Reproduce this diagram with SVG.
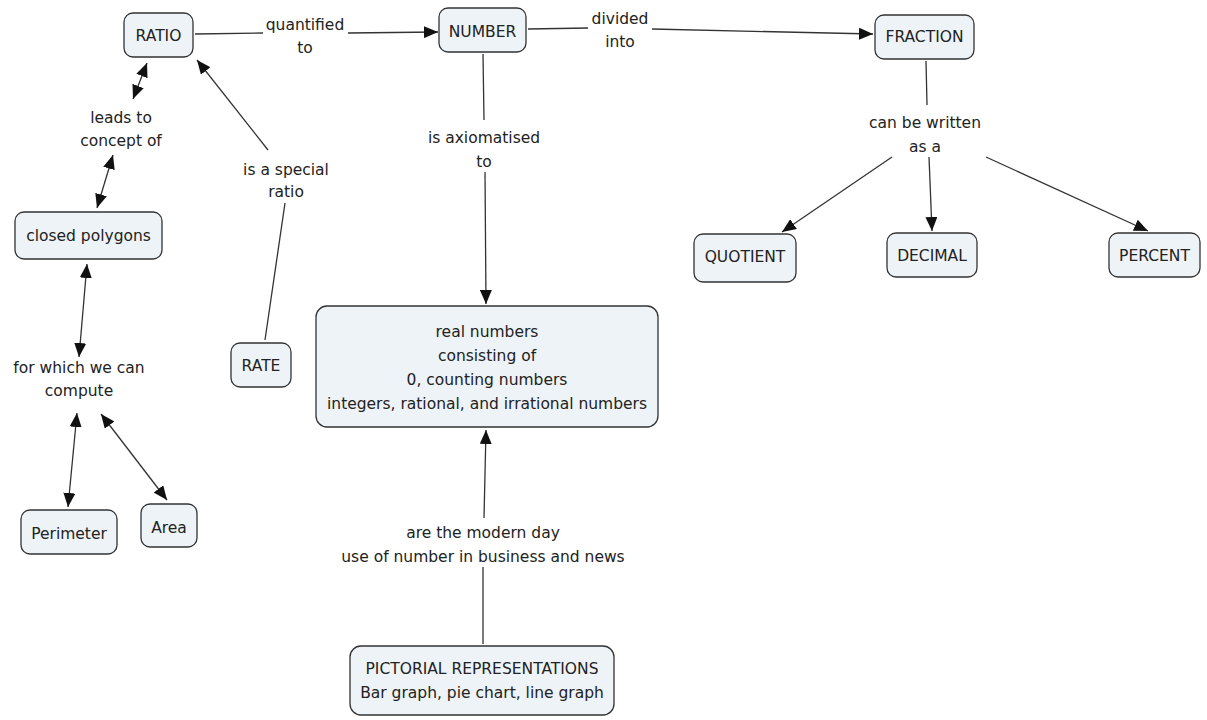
<svg xmlns="http://www.w3.org/2000/svg" width="1207" height="720" viewBox="0 0 1207 720">
<style>
.n rect{fill:#eef3f7;stroke:#333;stroke-width:1.3}
text{font-family:"DejaVu Sans",Verdana,sans-serif;font-size:15.5px;fill:#222;text-anchor:middle}
.c line{stroke:#333;stroke-width:1.3;fill:none}
.a{marker-end:url(#ah)}
.d{marker-end:url(#ah);marker-start:url(#ah)}
</style>
<defs>
<marker id="ah" markerUnits="userSpaceOnUse" markerWidth="15" markerHeight="12" refX="14" refY="6" orient="auto-start-reverse">
<path d="M0,0 L14,6 L0,12 z" fill="#111"/>
</marker>
</defs>
<rect width="1207" height="720" fill="#fff"/>
<g class="c" id="connectors">
<line x1="195" y1="34" x2="263" y2="33"/>
<line class="a" x1="348" y1="33" x2="438" y2="32"/>
<line x1="528" y1="29" x2="588" y2="28"/>
<line class="a" x1="652" y1="29" x2="873" y2="34"/>
<line x1="483" y1="54" x2="484" y2="120"/>
<line class="a" x1="485" y1="172" x2="486" y2="304"/>
<line x1="926" y1="61" x2="927" y2="105"/>
<line class="a" x1="892" y1="157" x2="782" y2="232"/>
<line class="a" x1="929" y1="157" x2="932" y2="231"/>
<line class="a" x1="986" y1="157" x2="1148" y2="231"/>
<line class="d" x1="147" y1="63" x2="133" y2="99"/>
<line class="d" x1="113" y1="155" x2="97" y2="208"/>
<line class="d" x1="87" y1="264" x2="79" y2="357"/>
<line class="d" x1="77" y1="413" x2="68" y2="507"/>
<line class="d" x1="101" y1="414" x2="167" y2="500"/>
<line x1="265" y1="340" x2="285" y2="203"/>
<line class="a" x1="268" y1="150" x2="197" y2="60"/>
<line x1="483" y1="644" x2="483" y2="567"/>
<line class="a" x1="484" y1="518" x2="486" y2="430"/>
</g>
<g id="labels">
<text x="305" y="30">quantified</text><text x="305" y="53">to</text>
<text x="620" y="24">divided</text><text x="620" y="47">into</text>
<text x="484" y="143">is axiomatised</text><text x="484" y="167">to</text>
<text x="925" y="128">can be written</text><text x="925" y="152">as a</text>
<text x="121" y="123">leads to</text><text x="121" y="146">concept of</text>
<text x="286" y="175">is a special</text><text x="286" y="197">ratio</text>
<text x="79" y="373">for which we can</text><text x="79" y="396">compute</text>
<text x="483" y="538">are the modern day</text><text x="483" y="562">use of number in business and news</text>
</g>
<g class="n" id="ratio"><rect x="124" y="13" width="69" height="44" rx="9"/><text x="158.5" y="41">RATIO</text></g>
<g class="n" id="number"><rect x="439" y="8" width="87" height="44" rx="9"/><text x="482.5" y="37">NUMBER</text></g>
<g class="n" id="fraction"><rect x="875" y="15" width="99" height="44" rx="9"/><text x="924.5" y="42">FRACTION</text></g>
<g class="n" id="quotient"><rect x="694" y="234" width="102" height="48" rx="9"/><text x="745" y="262">QUOTIENT</text></g>
<g class="n" id="decimal"><rect x="887" y="233" width="90" height="44" rx="9"/><text x="932" y="261">DECIMAL</text></g>
<g class="n" id="percent"><rect x="1109" y="233" width="91" height="44" rx="9"/><text x="1154.5" y="261">PERCENT</text></g>
<g class="n" id="closed-polygons"><rect x="15" y="212" width="147" height="47" rx="9"/><text x="88.5" y="241">closed polygons</text></g>
<g class="n" id="rate"><rect x="231" y="343" width="60" height="44" rx="9"/><text x="261" y="371">RATE</text></g>
<g class="n" id="perimeter"><rect x="21" y="510" width="96" height="44" rx="9"/><text x="69" y="539">Perimeter</text></g>
<g class="n" id="area"><rect x="141" y="504" width="56" height="43" rx="9"/><text x="169" y="533">Area</text></g>
<g class="n" id="real-numbers"><rect x="316" y="306" width="342" height="121" rx="11"/>
<text x="487" y="337">real numbers</text><text x="487" y="361">consisting of</text><text x="487" y="385">0, counting numbers</text><text x="487" y="409">integers, rational, and irrational numbers</text></g>
<g class="n" id="pictorial"><rect x="350" y="646" width="264" height="69" rx="11"/>
<text x="482" y="674">PICTORIAL REPRESENTATIONS</text><text x="482" y="698">Bar graph, pie chart, line graph</text></g>
</svg>
